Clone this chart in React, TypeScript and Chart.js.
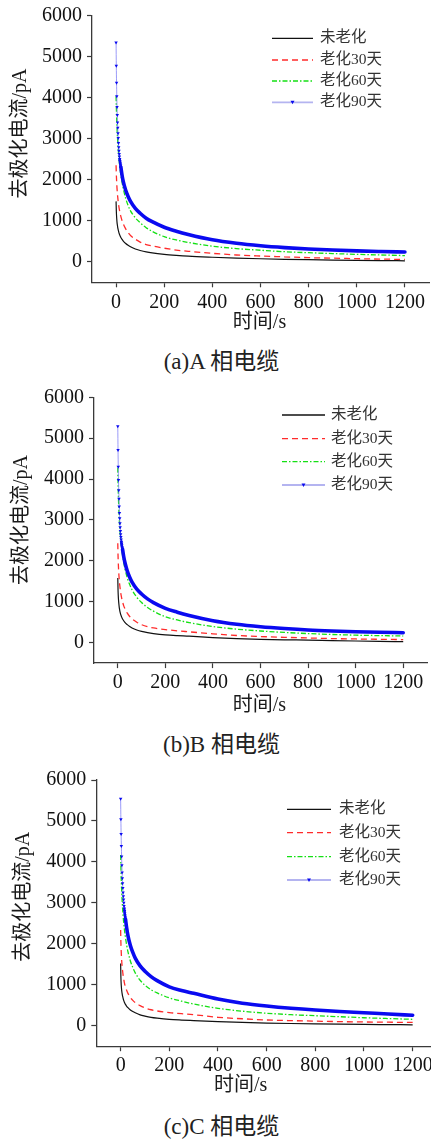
import React, { useEffect, useRef } from "react";
import { Chart, registerables } from "chart.js";

Chart.register(...registerables);

// ---------- data ----------
const times = [0, 1, 2, 3, 4, 5, 6, 7, 8, 9, 10, 11, 12, 13, 14, 15, 16, 17, 18, 19, 20, 25, 30, 40, 50, 60, 80, 100, 125, 150, 200, 250, 300, 400, 500, 600, 700, 800, 900, 1000, 1100, 1200];
const seriesNames = ["未老化", "老化30天", "老化60天", "老化90天"];
const xTickValues = [0, 200, 400, 600, 800, 1000, 1200];
const yTickValues = [0, 1000, 2000, 3000, 4000, 5000, 6000];
const xTitle = "时间/s";
const yTitle = "去极化电流/pA";
const captions = ["(a)A 相电缆", "(b)B 相电缆", "(c)C 相电缆"];

const unagedA = [1470, 1250, 1120, 1030, 960, 910, 870, 830, 800, 775, 750, 727, 705, 688, 670, 655, 640, 627, 614, 602, 590, 545, 505, 445, 400, 365, 310, 275, 240, 215, 180, 155, 135, 110, 90, 73, 60, 50, 42, 35, 29, 24];
const aged30A = [2350, 2150, 2000, 1880, 1780, 1700, 1630, 1570, 1510, 1460, 1410, 1370, 1330, 1295, 1260, 1230, 1200, 1170, 1145, 1122, 1100, 1000, 920, 800, 710, 640, 550, 480, 420, 385, 330, 285, 255, 205, 165, 140, 120, 100, 88, 75, 65, 57];
const aged60A = [4030, 3800, 3580, 3400, 3250, 3120, 3010, 2910, 2820, 2740, 2660, 2590, 2520, 2455, 2395, 2340, 2290, 2240, 2195, 2150, 2110, 1930, 1780, 1540, 1370, 1240, 1070, 950, 830, 740, 610, 530, 470, 380, 320, 280, 245, 220, 200, 180, 165, 150];
const aged90A = [5340, 4770, 4360, 4030, 3770, 3570, 3390, 3260, 3130, 3010, 2890, 2790, 2700, 2625, 2560, 2500, 2455, 2410, 2370, 2335, 2300, 2100, 1950, 1740, 1590, 1470, 1300, 1180, 1060, 975, 840, 745, 665, 535, 450, 390, 345, 310, 285, 265, 250, 237];

const unagedB = [1580, 1300, 1150, 1050, 980, 920, 870, 830, 795, 765, 740, 717, 695, 678, 660, 645, 630, 616, 603, 591, 580, 535, 495, 440, 395, 360, 310, 275, 245, 222, 190, 172, 160, 125, 100, 82, 70, 62, 50, 40, 32, 25];
const aged30B = [2430, 2150, 1970, 1830, 1720, 1630, 1550, 1480, 1420, 1370, 1320, 1275, 1230, 1195, 1160, 1130, 1100, 1072, 1047, 1023, 1000, 900, 830, 720, 640, 580, 500, 440, 390, 360, 320, 290, 265, 215, 175, 150, 130, 115, 100, 90, 82, 75];
const aged60B = [4280, 3950, 3700, 3500, 3330, 3180, 3050, 2940, 2840, 2750, 2670, 2600, 2530, 2470, 2412, 2360, 2310, 2262, 2218, 2178, 2140, 1960, 1810, 1580, 1420, 1290, 1110, 980, 860, 770, 635, 555, 490, 395, 330, 285, 250, 222, 200, 183, 172, 163];
const aged90B = [5290, 4710, 4300, 3980, 3730, 3520, 3330, 3170, 3040, 2920, 2820, 2730, 2650, 2585, 2525, 2470, 2420, 2375, 2335, 2305, 2280, 2100, 1960, 1750, 1600, 1480, 1310, 1190, 1070, 980, 840, 745, 665, 537, 450, 390, 345, 309, 285, 268, 255, 244];

const unagedC = [1520, 1200, 1050, 950, 880, 830, 790, 755, 725, 700, 675, 652, 630, 612, 595, 580, 565, 551, 538, 529, 520, 475, 440, 385, 345, 315, 265, 235, 205, 185, 155, 138, 125, 100, 80, 65, 54, 45, 38, 32, 27, 22];
const aged30C = [2340, 2050, 1870, 1730, 1620, 1530, 1460, 1400, 1340, 1290, 1240, 1198, 1160, 1125, 1092, 1060, 1032, 1005, 985, 967, 950, 860, 790, 690, 620, 565, 490, 435, 390, 360, 320, 295, 270, 205, 170, 140, 125, 112, 100, 92, 86, 80];
const aged60C = [4170, 3900, 3680, 3500, 3340, 3200, 3080, 2970, 2870, 2780, 2700, 2628, 2560, 2497, 2437, 2380, 2330, 2280, 2235, 2192, 2150, 1960, 1810, 1580, 1420, 1290, 1110, 990, 880, 800, 680, 600, 530, 425, 355, 305, 270, 245, 220, 195, 175, 156];
const aged90C = [5540, 5040, 4680, 4390, 4130, 3920, 3740, 3600, 3480, 3360, 3250, 3160, 3080, 3000, 2925, 2860, 2800, 2742, 2690, 2645, 2600, 2380, 2200, 1960, 1790, 1650, 1460, 1330, 1200, 1100, 950, 860, 790, 650, 550, 480, 425, 382, 348, 317, 285, 255];

const panelSeries = [
  [unagedA, aged30A, aged60A, aged90A],
  [unagedB, aged30B, aged60B, aged90B],
  [unagedC, aged30C, aged60C, aged90C],
];

// ---------- layout / style ----------
const panelLayout = [
  { top: 0, W: 433, H: 345, L: 92, T: 15.3, B: 282.3, lx0: 272, lx1: 313, tx: 320, rows: [38.3, 60, 81, 102.3], xTitleAt: 596, xTitleY: 322.7, yTitleX: 21, yTitleAt: 3120, capY: 362 },
  { top: 380, W: 431, H: 345, L: 94, T: 17.3, B: 283.1, lx0: 282, lx1: 325, tx: 331, rows: [35, 58.7, 81.7, 105], xTitleAt: 595, xTitleY: 326, yTitleX: 21.7, yTitleAt: 3000, capY: 365 },
  { top: 760, W: 441, H: 345, L: 96.3, T: 20, B: 286.2, lx0: 287, lx1: 331, tx: 339, rows: [49.3, 72.7, 96.7, 120], xTitleAt: 493, xTitleY: 326, yTitleX: 23.3, yTitleAt: 3150, capY: 366.7 },
];

const FONT_MIX = '"Liberation Serif", "Noto Sans CJK SC", serif';
const AXIS_COLOR = "#3a3a3a";
const BLACK = "#111111";
const RED = "#ff2b2b";
const GREEN = "#14e014";
const BLUE = "#0a0af0";
const BLUE_THIN = "rgba(120,120,245,0.75)";
const THICK_FROM = 20;
const MID_FROM = 15;

const decorPlugin = {
  id: "decor",
  afterDraw(chart: any, _args: any, opts: any) {
    const { ctx } = chart;
    const xs = chart.scales.x;
    const ys = chart.scales.y;
    const g = opts.geo;
    ctx.save();
    ctx.fillStyle = "#1a1a1a";
    ctx.font = `20px ${FONT_MIX}`;
    ctx.textAlign = "center";
    ctx.textBaseline = "middle";
    ctx.fillText(xTitle, xs.getPixelForValue(g.xTitleAt), g.xTitleY);
    ctx.save();
    ctx.translate(g.yTitleX, ys.getPixelForValue(g.yTitleAt));
    ctx.rotate(-Math.PI / 2);
    ctx.fillText(yTitle, 0, 0);
    ctx.restore();

    // legend
    const styles = [
      { color: BLACK, dash: [], width: 1.3 },
      { color: RED, dash: [6, 4], width: 1.3 },
      { color: GREEN, dash: [5, 2, 1.5, 2], width: 1.3 },
      { color: "#b4b4f0", dash: [], width: 1.8 },
    ];
    ctx.font = `15.5px ${FONT_MIX}`;
    ctx.textAlign = "left";
    seriesNames.forEach((name, i) => {
      const y = g.rows[i];
      const s = styles[i];
      ctx.save();
      ctx.strokeStyle = s.color;
      ctx.lineWidth = s.width;
      ctx.setLineDash(s.dash);
      ctx.beginPath();
      ctx.moveTo(g.lx0, y);
      ctx.lineTo(g.lx1, y);
      ctx.stroke();
      ctx.restore();
      if (i === 3) {
        const cx = (g.lx0 + g.lx1) / 2;
        ctx.save();
        ctx.fillStyle = BLUE;
        ctx.beginPath();
        ctx.moveTo(cx - 2, y - 1.5);
        ctx.lineTo(cx + 2, y - 1.5);
        ctx.lineTo(cx, y + 2);
        ctx.closePath();
        ctx.fill();
        ctx.restore();
      }
      ctx.fillStyle = "#333";
      ctx.fillText(name, g.tx, y);
    });
    ctx.restore();
  },
};

function Panel({ index }: { index: number }) {
  const ref = useRef<HTMLCanvasElement | null>(null);
  const g = panelLayout[index];
  useEffect(() => {
    const canvas = ref.current;
    if (!canvas) return;
    const [s0, s1, s2, s3] = panelSeries[index];
    const pts = (arr: number[]) => times.map((t, i) => ({ x: t, y: arr[i] }));
    const chart = new Chart(canvas, {
      type: "line",
      data: {
        datasets: [
          { label: seriesNames[0], data: pts(s0), borderColor: BLACK, borderWidth: 1.2, pointRadius: 0, order: 3, cubicInterpolationMode: "monotone" },
          { label: seriesNames[1], data: pts(s1), borderColor: RED, borderWidth: 1.3, borderDash: [6, 4], pointRadius: 0, order: 2, cubicInterpolationMode: "monotone" },
          { label: seriesNames[2], data: pts(s2), borderColor: GREEN, borderWidth: 1.3, borderDash: [5, 2, 1.5, 2], pointRadius: 0, order: 1, cubicInterpolationMode: "monotone" },
          {
            label: seriesNames[3],
            data: pts(s3),
            borderColor: BLUE_THIN,
            borderWidth: 1,
            borderCapStyle: "round",
            borderJoinStyle: "round",
            order: 0,
            cubicInterpolationMode: "monotone",
            pointStyle: "triangle",
            rotation: 180,
            pointRadius: (c: any) => (c.raw && c.raw.x <= THICK_FROM ? 2 : 0),
            pointBackgroundColor: BLUE,
            pointBorderColor: BLUE,
            pointBorderWidth: 0,
            segment: {
              borderWidth: (c: any) => (c.p0.parsed.x >= THICK_FROM ? 3.6 : c.p0.parsed.x >= MID_FROM ? 2.4 : 1),
              borderColor: (c: any) => (c.p0.parsed.x >= MID_FROM ? BLUE : BLUE_THIN),
            },
          } as any,
        ],
      },
      options: {
        responsive: false,
        animation: false,
        devicePixelRatio: 1,
        layout: { padding: { left: 0, right: 0, top: g.T, bottom: g.H - g.B - 30 } },
        plugins: {
          legend: { display: false },
          tooltip: { enabled: false },
          decor: { geo: g },
        } as any,
        scales: {
          x: {
            type: "linear",
            min: -100,
            max: 1300,
            afterBuildTicks: (s: any) => {
              s.ticks = xTickValues.map((v) => ({ value: v }));
            },
            afterFit: (s: any) => {
              s.height = 30;
              s.paddingLeft = 0;
              s.paddingRight = 0;
            },
            grid: { display: true, drawOnChartArea: false, drawTicks: true, tickLength: 5, tickColor: AXIS_COLOR, tickWidth: 1.2 },
            border: { display: true, color: AXIS_COLOR, width: 1.3 },
            ticks: { font: { family: '"Liberation Serif"', size: 20 }, color: "#111", padding: 3, maxRotation: 0, autoSkip: false, callback: (v: any) => String(v) },
          },
          y: {
            type: "linear",
            min: -500,
            max: 6000,
            afterBuildTicks: (s: any) => {
              s.ticks = yTickValues.map((v) => ({ value: v }));
            },
            afterFit: (s: any) => {
              s.width = g.L;
              s.paddingTop = 0;
              s.paddingBottom = 0;
            },
            grid: { display: true, drawOnChartArea: false, drawTicks: true, tickLength: 5, tickColor: AXIS_COLOR, tickWidth: 1.2 },
            border: { display: true, color: AXIS_COLOR, width: 1.3 },
            ticks: { font: { family: '"Liberation Serif"', size: 20 }, color: "#111", padding: 5, autoSkip: false, callback: (v: any) => String(v) },
          },
        },
      },
      plugins: [decorPlugin as any],
    } as any);
    return () => chart.destroy();
  }, [index]);

  return (
    <div style={{ position: "absolute", left: 0, top: g.top, width: 431, height: 380, overflow: "hidden" }}>
      <canvas ref={ref} width={g.W} height={g.H} style={{ display: "block", width: g.W, height: g.H }} />
      <div
        style={{
          position: "absolute",
          left: 0,
          width: 443,
          top: g.capY - 15,
          height: 30,
          lineHeight: "30px",
          textAlign: "center",
          fontFamily: FONT_MIX,
          fontSize: 23,
          color: "#222",
          whiteSpace: "nowrap",
        }}
      >
        {captions[index]}
      </div>
    </div>
  );
}

export default function App() {
  return (
    <div style={{ position: "absolute", left: 0, top: 0, width: 431, height: 1140, overflow: "hidden", background: "#fff" }}>
      <Panel index={0} />
      <Panel index={1} />
      <Panel index={2} />
    </div>
  );
}
